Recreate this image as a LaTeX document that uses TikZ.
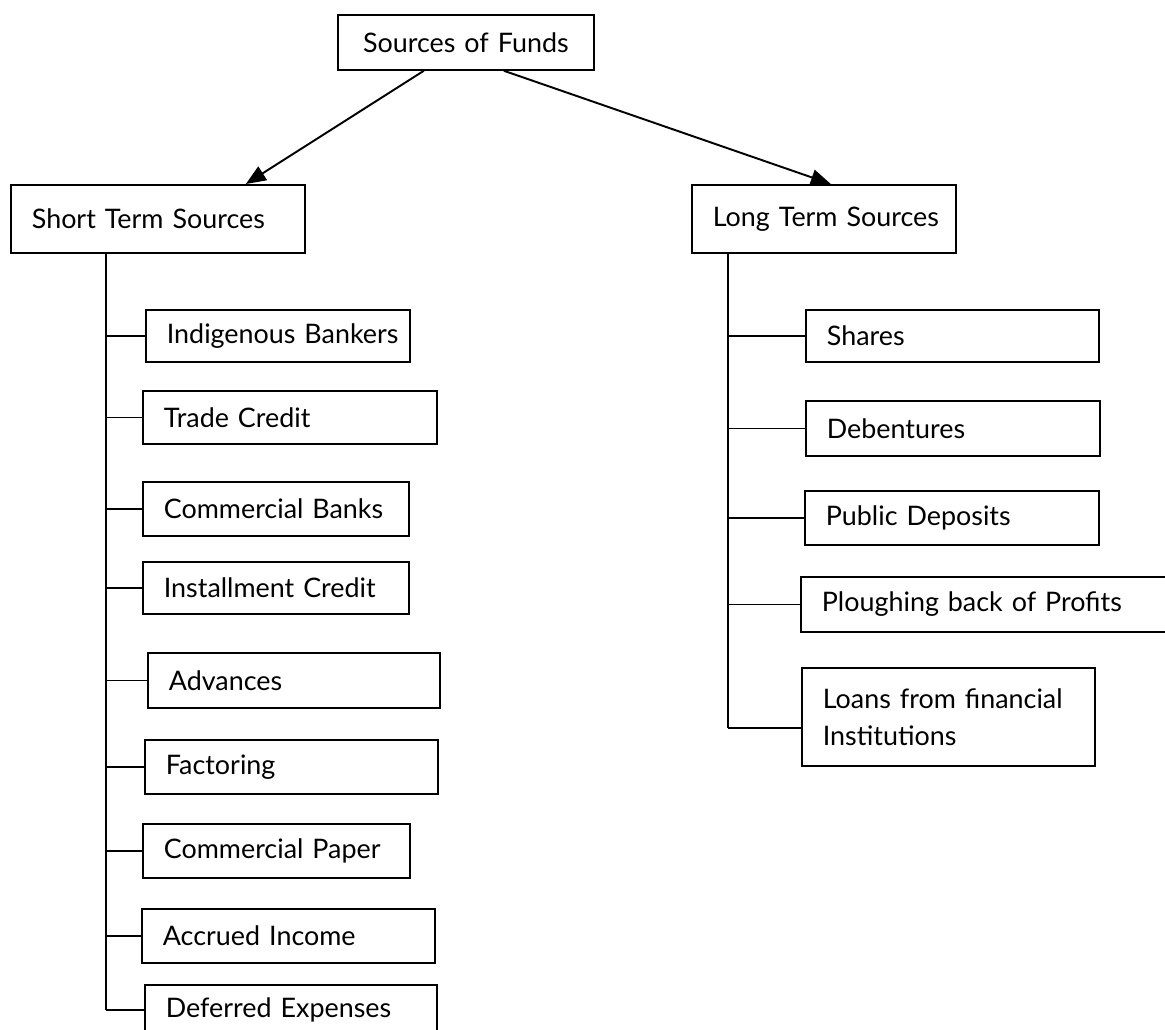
\documentclass[tikz,border=0pt]{standalone}
\usepackage{fontspec}
\setmainfont{Lato}
\usetikzlibrary{arrows.meta}

\tikzset{
    srcbox/.style={draw, line width=1pt, anchor=north west, inner xsep=0.42cm, inner ysep=0pt, align=left, font=\fontsize{15.3}{21}\selectfont},
    stem/.style={line width=1pt},
    feed/.style={line width=1.1pt, -{Triangle[length=0.4cm, width=0.32cm]}}
}
% one line, never wrapped
\newcommand{\oneline}[1]{\makebox[\linewidth][l]{#1}}

\begin{document}
\begin{tikzpicture}[x=0.02cm, y=-0.02cm]
    % page frame (pixel units, y downwards)
    \useasboundingbox (0,0) rectangle (1165,1029);

    % Top and the two main groups
    \node[srcbox, align=center, text width=4.28cm, minimum height=1.1cm] (src) at (337,14) {Sources of Funds};
    \node[srcbox, text width=5.04cm, minimum height=1.36cm] (short) at (10,184) {\oneline{Short Term Sources}};
    \node[srcbox, text width=4.44cm, minimum height=1.36cm] (long) at (691,184) {\oneline{Long Term Sources}};

    \draw[feed] ([xshift=-0.84cm]src.south) -- ([xshift=1.76cm]short.north);
    \draw[feed] ([xshift=0.76cm]src.south) -- ([xshift=0.14cm]long.north);

    % Short term: name/x/y/text width/height/label
    \foreach \nm/\x/\y/\tw/\bh/\txt in {
        indig/145/309/4.44/1.04/Indigenous Bankers,
        trade/142/390/5.04/1.06/Trade Credit,
        banks/142/481/4.48/1.08/Commercial Banks,
        instal/142/561/4.48/1.04/Installment Credit,
        adv/147/652/5.00/1.10/Advances,
        fact/144/739/5.02/1.08/Factoring,
        paper/142/823/4.50/1.08/Commercial Paper,
        accr/141/908/5.02/1.08/Accrued Income,
        defer/144/984/5.00/1.00/Deferred Expenses} {
        \node[srcbox, text width=\tw cm, minimum height=\bh cm] (\nm) at (\x,\y) {\oneline{\txt}};
    }

    % Long term
    \foreach \nm/\x/\y/\tw/\bh/\txt in {
        shares/805/309/5.02/1.04/Shares,
        deb/805/400/5.04/1.10/Debentures,
        pub/804/490/5.04/1.08/Public Deposits,
        plough/800/576/7.16/1.10/Ploughing back of Profits,
        loans/801/667/5.02/1.96/{Loans from financial\\Institutions}} {
        \node[srcbox, text width=\tw cm, minimum height=\bh cm] (\nm) at (\x,\y) {\txt};
    }

    % Stems and ticks
    \coordinate (ltop) at ([xshift=1.92cm]short.south west);
    \coordinate (rtop) at ([xshift=0.74cm]long.south west);
    \draw[stem] (ltop) -- (ltop |- defer.west);
    \foreach \nm in {indig, trade, banks, instal, adv, fact, paper, accr, defer} {
        \draw[stem] (ltop |- \nm.west) -- (\nm.west);
    }
    \coordinate (lend) at ([yshift=-0.22cm]loans.west);
    \draw[stem] (rtop) -- (rtop |- lend);
    \foreach \nm in {shares, deb, pub, plough} {
        \draw[stem] (rtop |- \nm.west) -- (\nm.west);
    }
    \draw[stem] (rtop |- lend) -- (lend);
\end{tikzpicture}
\end{document}
